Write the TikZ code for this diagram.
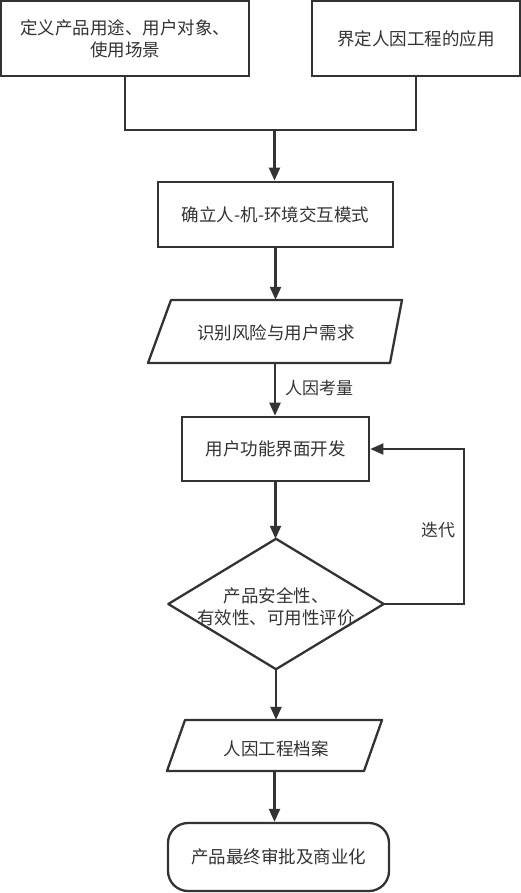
\documentclass[tikz,border=0pt]{standalone}
\usepackage{fontspec}
\newfontfamily\cjk{Noto Sans CJK SC}
\usetikzlibrary{arrows.meta,calc}
\definecolor{ink}{HTML}{333333}
\begin{document}
\begin{tikzpicture}[x=1pt,y=-1pt,
  font=\cjk\fontsize{17.5}{22}\selectfont,
  every node/.style={text=ink},
  box/.style={draw=ink,line width=2.3pt,fill=white,align=center,inner sep=0pt},
  ghost/.style={inner sep=0pt,align=center},
  ln/.style={draw=ink,line width=2.3pt},
  arr/.style={ln,-{Triangle[length=13pt,width=11pt]}},
  lbl/.style={font=\cjk\fontsize{17}{20}\selectfont}]
\useasboundingbox (0,0) rectangle (521,893);

\node[box,minimum width=248,minimum height=75] (a) at (125,38.5) {定义产品用途、用户对象、\\使用场景};
\node[box,minimum width=208,minimum height=75] (r) at (416,38.5) {界定人因工程的应用};
\node[box,line width=2.8pt,minimum width=235,minimum height=65] (b3) at (275.5,214.5) {确立人-机-环境交互模式};

\node[ghost,minimum width=254,minimum height=63] (p1) at (275,331.5) {};
\draw[ln,line join=round] (171,300) -- (402,300) -- (390,363) -- (148,363) -- cycle;
\node at (276,333) {识别风险与用户需求};

\node[box,line width=2.6pt,minimum width=187,minimum height=64] (b4) at (275.5,449) {用户功能界面开发};

\node[ghost,minimum width=215,minimum height=130] (d) at (276,604) {};
\draw[ln,line join=round] (d.north) -- (d.east) -- (d.south) -- (d.west) -- cycle;
\node[align=center] at (276,606.5) {产品安全性、\\有效性、可用性评价};

\node[ghost,minimum width=215,minimum height=51] (p2) at (274.5,745.5) {};
\draw[ln,line join=round] (185,720) -- (382,720) -- (364,771) -- (167,771) -- cycle;
\node at (276,749) {人因工程档案};

\node[box,rounded corners=20pt,minimum width=221,minimum height=68] (f) at (278.5,857) {产品最终审批及商业化};

\coordinate (m) at (274.5,130);
\draw[ln] (a.south) |- (m);
\draw[ln] (r.south) |- (m);
\draw[arr] (m) -- (m |- b3.north);
\draw[arr] (b3.south) -- (b3.south |- p1.north);
\draw[arr] (p1.south) -- (p1.south |- b4.north);
\node[lbl] at (319,388) {人因考量};
\draw[arr] (b4.south) -- (b4.south |- d.north);
\draw[arr,line width=1.8pt] (d.east) -- ++(80,0) |- (b4.east);
\node[lbl] at (438,530) {迭代};
\draw[arr] (d.south) -- (d.south |- p2.north);
\draw[arr] (p2.south) -- (p2.south |- f.north);
\end{tikzpicture}
\end{document}
